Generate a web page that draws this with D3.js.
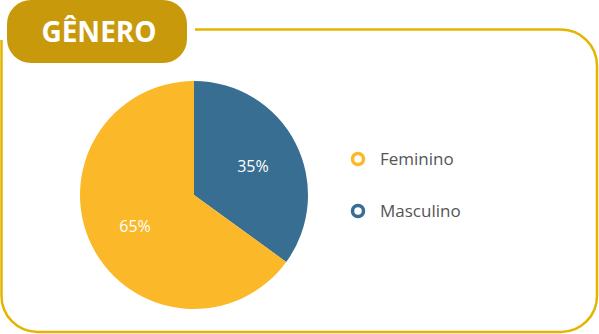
<!DOCTYPE html>
<html>
<head>
<meta charset="utf-8">
<script src="https://cdn.jsdelivr.net/npm/d3@7"></script>
<style>
  html, body { margin: 0; padding: 0; background: #fff; }
  svg { display: block; }
</style>
</head>
<body>
<svg id="chart" width="599" height="334"></svg>
<script>
const title = "GÊNERO";
const categories = ["Masculino", "Feminino"];
const values = [35, 65];
const colors = ["#386E92", "#FBB829"];
const legendOrder = ["Feminino", "Masculino"];

const svg = d3.select("#chart");
const font = "'Open Sans', 'Noto Sans', sans-serif";

// Frame: rounded panel, its top-left hidden under the title badge
const gold = "#E4B500";
svg.append("path")
  .attr("d", (() => {
    const p = d3.path();
    const x0 = 1.5, y0 = 29.5, x1 = 597, y1 = 332, r = 36;
    p.moveTo(195, y0);
    p.lineTo(x1 - r, y0);
    p.arcTo(x1, y0, x1, y0 + r, r);
    p.lineTo(x1, y1 - r);
    p.arcTo(x1, y1, x1 - r, y1, r);
    p.lineTo(x0 + r, y1);
    p.arcTo(x0, y1, x0, y1 - r, r);
    p.lineTo(x0, 40);
    return p.toString();
  })())
  .attr("fill", "none")
  .attr("stroke", gold)
  .attr("stroke-width", 2.5);

// Title badge
svg.append("rect")
  .attr("x", 7).attr("y", 0)
  .attr("width", 180).attr("height", 63)
  .attr("rx", 24).attr("ry", 24)
  .attr("fill", "#C8990A");
svg.append("text")
  .attr("x", 99).attr("y", 42)
  .attr("text-anchor", "middle")
  .attr("font-family", font)
  .attr("font-weight", 700)
  .attr("font-size", 28)
  .attr("fill", "#fff")
  .text(title);

// Pie
const cx = 194, cy = 195, R = 114;
const data = categories.map((c, i) => ({ cat: c, value: values[i], color: colors[i] }));
const pie = d3.pie().sort(null).value(d => d.value);
const arc = d3.arc().innerRadius(0).outerRadius(R);
const labelArc = d3.arc().innerRadius(R * 0.58).outerRadius(R * 0.58);
const g = svg.append("g").attr("transform", `translate(${cx},${cy})`);
const arcs = pie(data);
g.selectAll("path.slice").data(arcs).join("path")
  .attr("class", "slice")
  .attr("d", arc)
  .attr("fill", d => d.data.color);
g.selectAll("text.pct").data(arcs).join("text")
  .attr("class", "pct")
  .attr("transform", d => `translate(${labelArc.centroid(d)})`)
  .attr("text-anchor", "middle")
  .attr("dy", "0.45em")
  .attr("font-family", font)
  .attr("font-size", 16)
  .attr("fill", "#fff")
  .text(d => d.data.value + "%");

// Legend
const colorOf = d3.scaleOrdinal().domain(categories).range(colors);
const ly = d3.scalePoint().domain(legendOrder).range([159, 211]);
const lg = svg.append("g");
const item = lg.selectAll("g").data(legendOrder).join("g")
  .attr("transform", d => `translate(358,${ly(d)})`);
item.append("circle")
  .attr("r", 5.5)
  .attr("fill", "#fff")
  .attr("stroke", d => colorOf(d))
  .attr("stroke-width", 3.5);
item.append("text")
  .attr("x", 22)
  .attr("dy", "0.35em")
  .attr("font-family", font)
  .attr("font-size", 17)
  .attr("fill", "#555")
  .text(d => d);
</script>
</body>
</html>
